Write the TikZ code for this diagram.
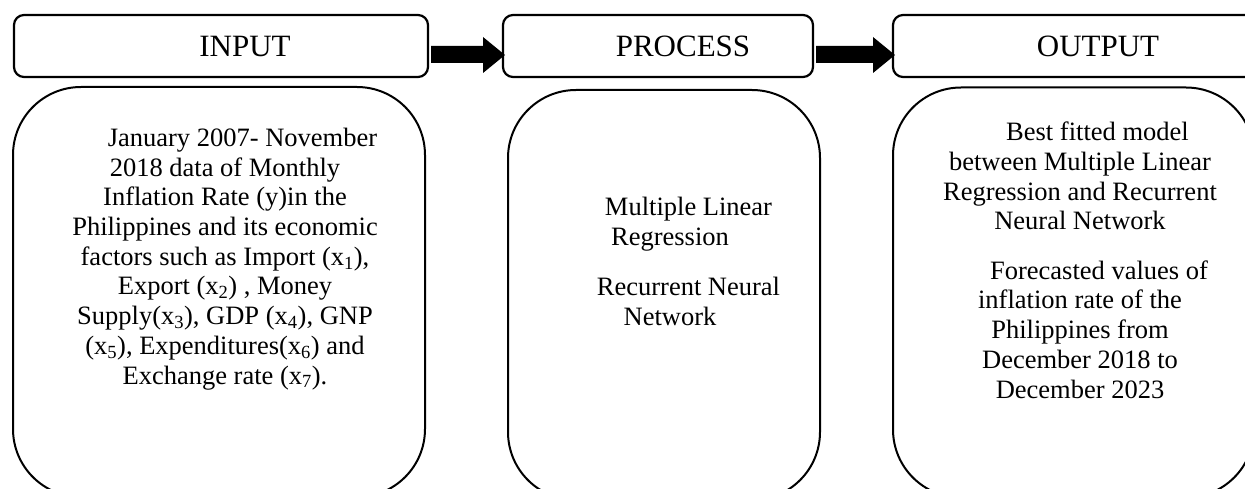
\documentclass[tikz,border=0pt]{standalone}
\usepackage{fontspec}
\setmainfont{Liberation Serif}
\usetikzlibrary{calc}
\tikzset{
  hdr/.style={draw, line width=2.2pt, rounded corners=10pt, minimum height=62pt, inner sep=0pt, outer sep=0pt, font=\fontsize{31}{36}\selectfont, text height=20.5pt, text depth=0pt},
  bigbox/.style={draw, line width=2pt, rounded corners=68pt, minimum height=410pt, inner sep=0pt, outer sep=0pt},
  body/.style={anchor=north, align=center, inner sep=0pt, font=\fontsize{26.5}{29.7}\selectfont},
}
\newcommand\blockarr[2]{\fill ($(#1.east)+(3,0)$) -- ($(#2.west)+(-20,0)$) -- ($(#2.west)+(-20,-9)$) -- ($(#2.west)+(2,9)$) -- ($(#2.west)+(-20,27)$) -- ($(#2.west)+(-20,17)$) -- ($(#1.east)+(3,17)$) -- cycle;}
\begin{document}
\begin{tikzpicture}[x=1pt,y=-1pt]
\useasboundingbox (0,0) rectangle (1245,489);
\clip (0,0) rectangle (1245,489);
% header boxes
\node[hdr, minimum width=414pt] (inhdr) at (221,46) {\hspace*{48pt}INPUT};
\node[hdr, minimum width=310pt] (prochdr) at (658,46) {\hspace*{50pt}PROCESS};
\node[hdr, minimum width=362pt] (outhdr) at (1074,46) {\hspace*{48pt}OUTPUT};
% block arrows
\blockarr{inhdr}{prochdr}
\blockarr{prochdr}{outhdr}
% big boxes
\node[bigbox, minimum width=412pt] (inbox) at (219,292) {};
\node[bigbox, minimum width=312pt] (procbox) at (664,295) {};
\node[bigbox, minimum width=361pt] (outbox) at (1073.5,292.5) {};
% texts
\node[body] (intext) at (225,125.5) {\strut\hspace*{35pt}January 2007- November\\
2018 data of Monthly\\
Inflation Rate (y)in the\\
Philippines and its economic\\
factors such as Import (x\textsubscript{1}),\\
Export (x\textsubscript{2}) , Money\\
Supply(x\textsubscript{3}), GDP (x\textsubscript{4}), GNP\\
(x\textsubscript{5}), Expenditures(x\textsubscript{6}) and\\
Exchange rate (x\textsubscript{7}).};
\node[body] (proctext) at (670,195) {\strut\hspace*{37pt}Multiple Linear\\
Regression\\[20.3pt]
\hspace*{37pt}Recurrent Neural\\
Network};
\node[body] (outtext) at (1080,119.9) {\strut\hspace*{35pt}Best fitted model\\
between Multiple Linear\\
Regression and Recurrent\\
Neural Network\\[19.6pt]
\hspace*{38pt}Forecasted values of\\
inflation rate of the\\
Philippines from\\
December 2018 to\\
December 2023};
\end{tikzpicture}
\end{document}
